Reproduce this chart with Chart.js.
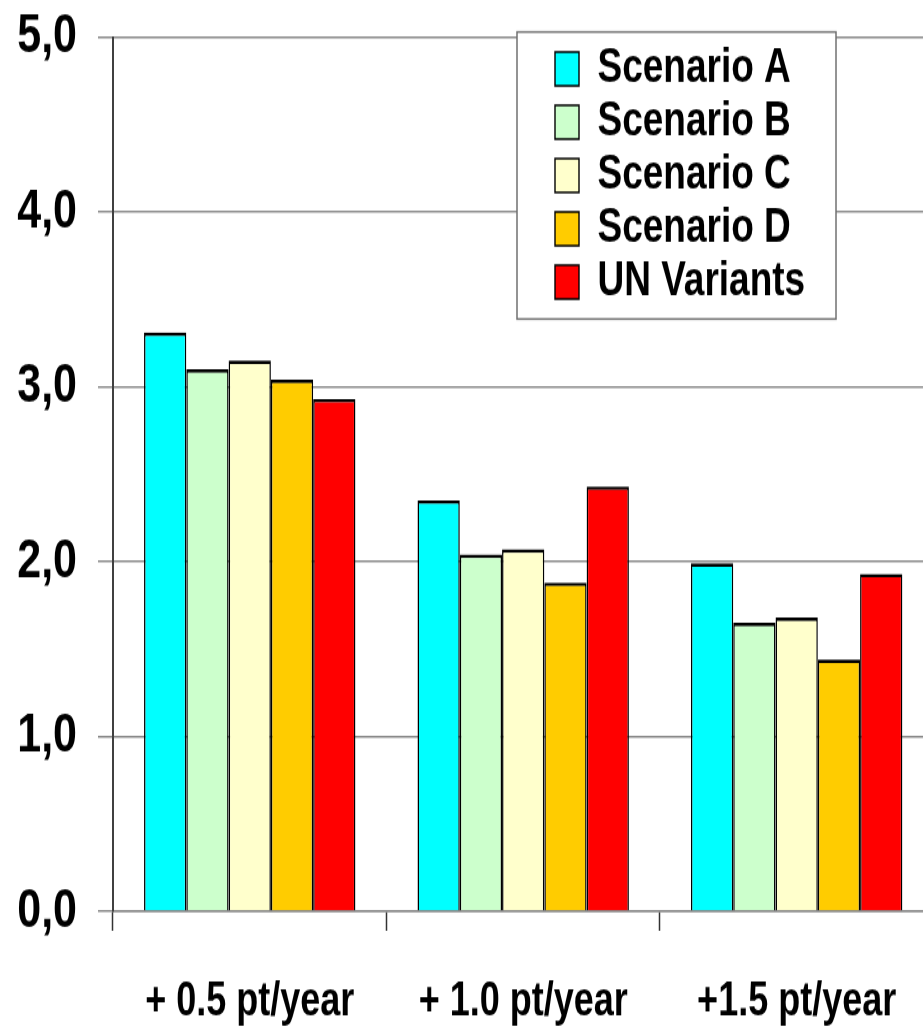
<!DOCTYPE html>
<html>
<head>
<meta charset="utf-8">
<script src="https://cdn.jsdelivr.net/npm/chart.js@4/dist/chart.umd.min.js"></script>
<style>
  html, body { margin: 0; padding: 0; background: #ffffff; overflow: hidden; }
  #wrap { width: 923px; height: 1027px; overflow: hidden; }
  /* the drawing is rendered short and stretched to full height, which gives the tall condensed lettering */
  #chart { display: block; transform: scaleY(1.3); transform-origin: 0 0; }
</style>
</head>
<body>
<div id="wrap"><canvas id="chart" width="945" height="790"></canvas></div>
<script>
// Categories and series values
const categories = ['+ 0.5 pt/year', '+ 1.0 pt/year', '+1.5 pt/year'];
const seriesNames = ['Scenario A', 'Scenario B', 'Scenario C', 'Scenario D', 'UN Variants'];
const scenarioA  = [3.31, 2.35, 1.99];
const scenarioB  = [3.10, 2.04, 1.65];
const scenarioC  = [3.15, 2.07, 1.68];
const scenarioD  = [3.04, 1.88, 1.44];
const unVariants = [2.93, 2.43, 1.93];
const yTickValues = [0, 1, 2, 3, 4, 5];

const seriesValues = [scenarioA, scenarioB, scenarioC, scenarioD, unVariants];
const seriesColors = ['#00FFFF', '#CCFFCC', '#FFFFCC', '#FFCC00', '#FF0000'];

const FONT = "'Liberation Sans', Arial, sans-serif";

// Places the legend inside the plot and gives it a white framed box
const legendFrame = {
  id: 'legendFrame',
  afterLayout(chart, args, opts) {
    const lg = chart.legend;
    lg.left = opts.itemsLeft;
    lg.top = opts.itemsTop;
    lg.right = opts.frame.right;
    lg.bottom = opts.frame.bottom;
    lg.width = lg.right - lg.left;
    lg.height = lg.bottom - lg.top;
  },
  beforeDatasetsDraw(chart, args, opts) {
    const ctx = chart.ctx;
    const f = opts.frame;
    ctx.save();
    ctx.fillStyle = '#ffffff';
    ctx.fillRect(f.left, f.top, f.right - f.left, f.bottom - f.top);
    ctx.strokeStyle = opts.borderColor;
    ctx.lineWidth = opts.borderWidth;
    ctx.strokeRect(f.left, f.top, f.right - f.left, f.bottom - f.top);
    ctx.restore();
    chart.legend.draw();
  }
};

new Chart(document.getElementById('chart'), {
  type: 'bar',
  data: {
    labels: categories,
    datasets: seriesNames.map((name, i) => ({
      label: name,
      data: seriesValues[i],
      backgroundColor: seriesColors[i],
      borderColor: '#000000',
      borderWidth: { top: 2.6, left: 1.5, right: 1.5, bottom: 0 },
      borderSkipped: 'start',
      categoryPercentage: 0.773,
      barPercentage: 1.0
    }))
  },
  options: {
    responsive: false,
    animation: false,
    devicePixelRatio: 1,
    layout: { padding: { top: 28.5, right: 11.6, left: 0, bottom: 0 } },
    plugins: {
      tooltip: { enabled: false },
      legend: {
        position: 'chartArea',
        align: 'start',
        labels: {
          boxWidth: 24,
          boxHeight: 26,
          padding: 4,
          color: '#000000',
          font: { family: FONT, size: 37, weight: 'bold' }
        }
      },
      legendFrame: {
        itemsLeft: 551,
        itemsTop: 30.5,
        frame: { left: 517, top: 24.6, right: 836, bottom: 245.4 },
        borderColor: '#707070',
        borderWidth: 1.5
      }
    },
    scales: {
      x: {
        type: 'category',
        offset: true,
        afterFit(axis) { axis.height = 89; axis.paddingLeft = 0; axis.paddingRight = 0; },
        grid: {
          offset: true,
          drawOnChartArea: false,
          drawTicks: true,
          tickLength: 15,
          tickColor: '#333333',
          tickWidth: 1.5
        },
        border: { display: true, color: '#8a8a8a', width: 1.5 },
        ticks: {
          color: '#000000',
          padding: 33,
          maxRotation: 0,
          autoSkip: false,
          font: { family: FONT, size: 36, weight: 'bold' }
        }
      },
      y: {
        min: 0,
        max: 5,
        afterFit(axis) { axis.width = 113; axis.paddingTop = 0; axis.paddingBottom = 0; },
        afterBuildTicks(axis) { axis.ticks = yTickValues.map(v => ({ value: v })); },
        grid: {
          color: '#8a8a8a',
          lineWidth: 1.5,
          drawTicks: true,
          tickLength: 15,
          tickColor: '#8a8a8a'
        },
        border: { display: true, color: '#404040', width: 2 },
        ticks: {
          color: '#000000',
          padding: 21,
          font: { family: FONT, size: 43, weight: 'bold' },
          callback: (v) => Number(v).toFixed(1).replace('.', ',')
        }
      }
    }
  },
  plugins: [legendFrame]
});
</script>
</body>
</html>
